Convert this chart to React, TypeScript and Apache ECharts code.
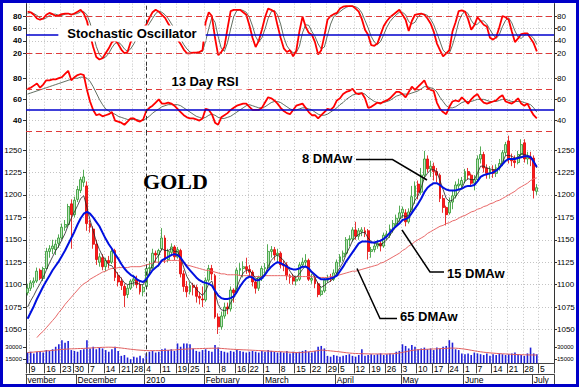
import React, { useEffect, useRef } from "react";
import * as echarts from "echarts";

// ---- trading days (categories) ----
const nov09 = [6, 9, 10, 11, 12, 13, 16, 17, 18, 19, 20, 23, 24, 25, 27, 30];
const dec09 = [1, 2, 3, 4, 7, 8, 9, 10, 11, 14, 15, 16, 17, 18, 21, 22, 23, 24, 28, 29, 30, 31];
const jan10 = [4, 5, 6, 7, 8, 11, 12, 13, 14, 15, 19, 20, 21, 22, 25, 26, 27, 28, 29];
const feb10 = [1, 2, 3, 4, 5, 8, 9, 10, 11, 12, 16, 17, 18, 19, 22, 23, 24, 25, 26];
const mar10 = [1, 2, 3, 4, 5, 8, 9, 10, 11, 12, 15, 16, 17, 18, 19, 22, 23, 24, 25, 26, 29, 30, 31];
const apr10 = [1, 5, 6, 7, 8, 9, 12, 13, 14, 15, 16, 19, 20, 21, 22, 23, 26, 27, 28, 29, 30];
const may10 = [3, 4, 5, 6, 7, 10, 11, 12, 13, 14, 17, 18, 19, 20, 21, 24, 25, 26, 27, 28];
const jun10 = [1, 2, 3, 4, 7, 8, 9, 10, 11, 14, 15, 16, 17, 18, 21, 22, 23, 24, 25, 28, 29, 30];
const jul10 = [1, 2, 5, 6, 7, 8, 9];

const monthKeys = ["2009-11", "2009-12", "2010-01", "2010-02", "2010-03", "2010-04", "2010-05", "2010-06", "2010-07"];
const monthNames = ["vember", "December", "2010", "February", "March", "April", "May", "June", "July"];
const monthDayLists = [nov09, dec09, jan10, feb10, mar10, apr10, may10, jun10, jul10];

// ---- price candles: [open, close, low, high] ----
const candles = [
  [1091,1096,1088,1101],[1096,1102,1093,1105],[1102,1104,1097,1108],[1104,1115,1102,1119],[1116,1107,1105,1118],
  [1107,1118,1104,1120],[1118,1137,1117,1141],[1137,1140,1130,1144],[1140,1143,1134,1150],[1139,1145,1133,1150],
  [1146,1152,1141,1156],[1152,1164,1150,1168],[1164,1167,1160,1172],[1167,1187,1165,1190],[1190,1178,1140,1195],
  [1178,1194,1175,1198],[1195,1206,1192,1210],[1205,1217,1202,1220],[1214,1220,1209,1228],[1210,1168,1160,1215],
  [1168,1164,1158,1172],[1162,1145,1140,1165],[1145,1128,1122,1150],[1125,1131,1120,1135],[1130,1120,1116,1134],
  [1120,1127,1115,1130],[1127,1124,1118,1132],[1125,1137,1123,1142],[1138,1108,1104,1140],[1110,1103,1098,1114],
  [1104,1099,1094,1108],[1098,1088,1075,1101],[1089,1096,1085,1100],[1096,1104,1094,1106],[1104,1106,1098,1111],
  [1106,1100,1096,1110],[1100,1092,1089,1103],[1092,1097,1087,1100],[1098,1118,1096,1122],[1118,1119,1112,1126],
  [1119,1135,1117,1140],[1135,1133,1125,1138],[1133,1138,1120,1140],[1140,1152,1138,1163],[1152,1128,1124,1155],
  [1128,1137,1125,1140],[1136,1142,1132,1146],[1142,1131,1127,1144],[1131,1139,1129,1142],[1138,1112,1108,1140],
  [1112,1098,1092,1116],[1098,1092,1086,1104],[1092,1099,1089,1103],[1099,1097,1088,1102],[1097,1087,1080,1100],
  [1087,1085,1078,1092],[1084,1083,1075,1098],[1083,1105,1081,1108],[1105,1118,1103,1122],[1118,1112,1105,1122],
  [1110,1064,1062,1112],[1064,1053,1045,1068],[1053,1065,1050,1070],[1065,1075,1062,1080],[1075,1073,1067,1080],
  [1073,1094,1070,1098],[1094,1091,1080,1096],[1092,1116,1090,1119],[1116,1118,1110,1124],[1118,1120,1108,1126],
  [1120,1117,1112,1130],[1117,1114,1108,1122],[1114,1103,1098,1116],[1103,1096,1090,1106],[1096,1108,1093,1110],
  [1108,1118,1104,1121],[1118,1119,1112,1124],[1119,1137,1117,1145],[1137,1139,1130,1143],[1139,1133,1127,1142],
  [1133,1135,1125,1140],[1135,1122,1118,1137],[1123,1121,1115,1127],[1122,1110,1105,1125],[1110,1108,1101,1112],
  [1108,1104,1100,1112],[1104,1106,1099,1110],[1106,1122,1104,1125],[1122,1125,1119,1130],[1125,1127,1120,1134],
  [1127,1106,1104,1129],[1105,1107,1101,1112],[1106,1101,1096,1110],[1101,1089,1086,1103],[1089,1093,1087,1098],
  [1093,1105,1091,1107],[1105,1107,1102,1111],[1107,1106,1103,1112],[1106,1113,1104,1117],[1113,1125,1111,1128],
  [1125,1131,1120,1134],[1131,1135,1126,1138],[1135,1150,1133,1153],[1150,1151,1143,1155],[1151,1161,1148,1164],
  [1161,1154,1150,1170],[1154,1160,1150,1163],[1159,1161,1154,1164],[1160,1158,1153,1164],[1160,1137,1128,1162],
  [1137,1139,1130,1142],[1139,1143,1136,1146],[1143,1146,1140,1150],[1146,1143,1137,1150],[1143,1155,1141,1158],
  [1154,1156,1150,1160],[1155,1162,1152,1167],[1162,1168,1158,1172],[1168,1174,1165,1178],[1174,1180,1170,1188],
  [1180,1184,1174,1187],[1180,1170,1165,1184],[1170,1181,1168,1185],[1181,1198,1178,1210],[1198,1210,1190,1215],
  [1212,1203,1195,1216],[1203,1222,1200,1230],[1222,1240,1218,1249],[1240,1229,1225,1244],[1229,1232,1220,1238],
  [1232,1226,1216,1236],[1226,1222,1214,1230],[1222,1196,1192,1224],[1196,1186,1180,1200],[1186,1178,1166,1188],
  [1180,1192,1178,1197],[1192,1199,1184,1205],[1199,1211,1196,1215],[1210,1212,1205,1218],[1211,1216,1206,1220],
  [1216,1226,1213,1229],[1226,1222,1217,1230],[1222,1213,1209,1224],[1213,1217,1205,1222],[1217,1240,1215,1244],
  [1240,1245,1235,1254],[1245,1230,1225,1248],[1230,1224,1218,1234],[1224,1228,1218,1232],[1228,1224,1219,1233],
  [1224,1230,1220,1234],[1230,1235,1227,1240],[1235,1247,1232,1250],[1247,1256,1244,1259],[1260,1240,1235,1266],
  [1240,1238,1232,1246],[1238,1236,1230,1244],[1236,1245,1234,1249],[1245,1256,1242,1262],[1258,1240,1236,1262],
  [1240,1242,1234,1248],[1242,1240,1232,1248],[1241,1205,1196,1244],[1204,1208,1200,1212],
];

const dmaw8 = [
  1075,1082,1088,1095,1101,1108,1116,1124,1131,1138, 1143,1150,1157,1166,1174,1181,1188,1196,1199,1186,
  1172,1160,1148,1139,1132,1127,1122,1121,1116,1111, 1107,1102,1100,1101,1102,1102,1100,1100,1106,1113,
  1122,1128,1133,1140,1138,1138,1140,1137,1137,1130, 1119,1109,1103,1100,1095,1091,1088,1093,1101,1104,
  1091,1078,1072,1071,1072,1080,1085,1097,1106,1113, 1116,1116,1112,1107,1106,1109,1112,1120,1127,1131,
  1133,1130,1127,1121,1115,1110,1108,1112,1117,1121, 1117,1113,1108,1101,1097,1099,1102,1104,1107,1113,
  1119,1125,1134,1141,1149,1153,1156,1158,1158,1152, 1148,1146,1145,1144,1147,1150,1155,1160,1166,1172,
  1177,1176,1177,1185,1194,1199,1208,1219,1224,1228, 1228,1226,1216,1206,1196,1193,1194,1198,1203,1208,
  1215,1218,1217,1217,1224,1232,1232,1230,1229,1228, 1228,1231,1236,1244,1244,1243,1241,1242,1246,1245,
  1244,1243,1238,1230,
];

const dmaw15 = [
  1062,1069,1076,1084,1091,1098,1104,1110,1116,1121, 1126,1132,1138,1145,1152,1159,1167,1174,1179,1181,
  1179,1175,1170,1165,1158,1151,1145,1140,1134,1129, 1123,1118,1114,1111,1109,1106,1104,1103,1106,1111,
  1116,1119,1122,1127,1129,1131,1133,1134,1133,1130, 1125,1120,1116,1112,1108,1105,1103,1102,1101,1099,
  1093,1088,1085,1084,1084,1085,1087,1092,1098,1103, 1107,1109,1108,1105,1105,1107,1111,1116,1120,1123,
  1125,1124,1122,1120,1118,1117,1117,1118,1120,1120, 1118,1114,1111,1108,1106,1106,1106,1107,1108,1110,
  1115,1120,1126,1131,1136,1141,1146,1148,1148,1148, 1147,1147,1148,1149,1151,1154,1158,1162,1165,1168,
  1172,1173,1175,1180,1185,1190,1196,1203,1208,1211, 1213,1213,1211,1208,1206,1205,1205,1205,1206,1207,
  1209,1210,1210,1211,1215,1220,1222,1223,1224,1225, 1227,1230,1234,1238,1240,1240,1240,1241,1242,1243,
  1243,1242,1237,1231,
];

const dmaw65 = [
  null,null,null,1041,1045,1048,1052,1056,1060,1064, 1069,1073,1078,1082,1086,1090,1094,1098,1101,1103,
  1106,1108,1110,1112,1114,1115,1117,1118,1118,1119, 1119,1119,1119,1120,1120,1120,1120,1121,1122,1123,
  1124,1125,1125,1126,1126,1127,1127,1127,1127,1126, 1124,1122,1121,1120,1119,1118,1117,1116,1116,1115,
  1114,1113,1112,1112,1111,1111,1111,1111,1110,1110, 1110,1110,1109,1109,1109,1109,1110,1110,1110,1110,
  1110,1110,1110,1110,1109,1109,1109,1109,1109,1109, 1109,1109,1108,1108,1108,1108,1108,1109,1109,1110,
  1111,1112,1113,1114,1115,1115,1116,1117,1118,1119, 1120,1121,1122,1124,1125,1127,1129,1131,1133,1135,
  1138,1140,1143,1145,1148,1150,1152,1154,1157,1159, 1161,1163,1165,1166,1168,1169,1171,1172,1174,1176,
  1177,1179,1181,1182,1184,1185,1187,1188,1190,1191, 1193,1194,1196,1198,1200,1202,1204,1207,1209,1211,
  1213,1216,1218,1219,
];

// ---- stochastic oscillator ----
const stochK = [
  87,86,82,76,74,76,82,85,83,80, 81,83,84,84,82,84,87,90,84,72, 50,30,14,10,12,20,28,38,41,35,
  26,20,22,38,45,50,55,60,66,77, 86,90,87,82,77,68,60,52,42,35, 26,20,20,21,21,22,25,70,86,80,
  45,17,22,30,60,88,90,90,90,86, 82,65,45,30,40,58,78,92,90,87, 65,45,28,22,25,15,24,55,79,63,
  53,50,38,18,25,48,74,80,83,85, 92,95,96,96,96,92,87,75,58,50, 33,32,36,50,64,72,78,82,86,90,
  82,74,56,72,82,83,84,82,76,68, 55,36,25,15,20,25,55,70,88,89, 87,75,58,65,78,72,66,63,45,42,
  46,62,80,78,74,55,38,44,51,52, 52,44,36,23,
];
const stochD = [
  84,86,84,81,77,75,77,81,83,83, 81,81,83,84,83,83,84,87,87,82, 69,51,31,18,12,14,20,29,36,38,
  34,27,23,27,35,44,50,55,60,68, 76,84,88,86,82,76,68,60,51,43, 34,27,22,21,21,22,23,40,60,78,
  70,47,28,23,37,59,79,89,90,89, 86,78,64,47,38,45,59,76,87,89, 82,67,46,32,25,21,21,31,53,66,
  65,55,47,35,27,30,49,67,79,83, 87,91,94,96,96,95,92,85,73,61, 47,38,34,39,50,62,71,77,82,86,
  86,82,71,67,70,79,83,83,81,75, 66,53,39,25,20,20,33,50,71,82, 88,84,73,66,67,72,72,67,58,50,
  44,50,63,73,77,69,56,46,44,49, 52,49,44,34,
];

// ---- 13 day RSI ----
const rsi = [
  70,71,73,75,71,74,78,78,79,79, 80,81,84,87,78,81,83,84,83,69, 58,50,45,46,44,45,46,48,40,39,
  38,36,39,42,42,40,39,41,49,52, 54,57,60,56,56,57,56,54,51,48, 45,43,42,42,41,40,42,51,50,46,
  38,36,43,45,47,50,52,54,55,56, 56,53,50,50,50,52,57,62,61,59, 56,52,49,47,46,50,54,55,56,52,
  48,45,45,42,45,48,51,50,53,59, 61,65,67,68,70,66,65,66,61,52, 53,55,57,56,58,59,61,64,67,67,
  65,62,67,72,69,72,75,78,71,69, 68,57,51,48,46,53,58,59,58,62, 59,56,60,63,65,60,57,56,57,58,
  59,62,64,58,57,56,58,61,56,54, 56,50,45,42,
];
const rsiSignal = [
  65,66,67,68,69,70,71,72,73,74, 75,76,77,78,79,80,80,81,81,80, 77,72,66,60,55,51,49,47,46,44,
  43,42,41,41,41,41,40,40,42,44, 47,49,51,53,54,55,55,55,55,54, 52,50,48,46,44,43,42,43,45,46,
  45,43,42,42,43,44,46,48,50,52, 54,55,54,53,52,52,53,55,57,58, 58,57,55,53,51,50,50,51,52,52,
  51,50,48,46,45,45,46,48,50,52, 55,57,60,62,64,65,66,66,65,62, 60,58,57,57,57,58,59,61,63,64,
  65,65,65,66,67,68,70,72,72,71, 70,67,62,58,54,52,52,53,55,57, 58,58,58,59,60,60,60,59,58,58,
  58,59,60,60,59,58,58,58,58,57, 56,55,52,48,
];

// ---- volume (thousands of contracts) ----
const volume = [
  23,24,22,24,25,23,26,25,27,30, 33,38,35,37,26,25,24,26,27,38, 28,30,27,29,28,26,24,27,30,25,
  19,20,17,15,18,17,19,16,22,24, 25,23,24,27,28,26,27,25,34,30, 34,34,33,28,25,24,26,27,25,24,
  32,29,25,24,23,25,24,26,25,24, 23,24,25,24,23,25,24,26,25,24, 23,24,23,25,22,24,23,24,25,26,
  24,23,25,30,31,28,19,18,20,19, 18,19,20,21,19,18,20,27,19,20, 21,20,21,22,20,21,22,21,24,25,
  33,31,28,32,30,27,28,29,27,28, 26,29,28,30,31,38,35,27,26,22, 21,22,20,23,22,21,20,22,19,21,
  20,22,21,20,21,22,23,21,20,19, 22,29,22,21,
];
const volumeAvg = [
  23,23.3,23.6,24,24.3,24.6,25,25.3,25.6,26, 26.4,26.8,27,27.3,27.5,27.6,27.8,27.9,28,28.3,
  28.5,28.7,28.9,29.1,29.3,29.4,29.5,29.4,29.2,28.9, 28.5,28,27.5,27,26.6,26.2,25.9,25.6,25.4,25.3,
  25.3,25.3,25.4,25.5,25.6,25.8,26,26.2,26.5,26.8, 27,27.2,27.4,27.6,27.7,27.8,27.9,28,28.1,28.2,
  28.3,28.2,28,27.7,27.4,27.1,26.9,26.7,26.5,26.3, 26.2,26,25.8,25.6,25.4,25.2,25,24.8,24.6,24.4,
  24.2,24,23.8,23.6,23.4,23.2,23,22.9,23.2,23.5, 23.9,24.3,24.8,25.4,26,25.8,25.4,25,24.6,24.2,
  23.8,23.3,22.8,22.4,22.1,21.9,21.7,21.6,21.5,21.4, 21.3,21.3,21.3,21.3,21.3,21.3,21.4,21.6,22,22.5,
  23.2,24,24.8,25.5,26.1,26.4,26.6,26.8,27,27.2, 27.3,27.5,27.7,27.9,28.1,28.3,28.4,28.3,28,27.6,
  27.1,26.5,25.8,25.1,24.5,23.9,23.4,23,22.6,22.3, 22,21.7,21.5,21.3,21.1,20.9,20.7,20.5,20.4,20.3,
  20.2,20.1,20.1,20,
];

// ---- tick values ----
const stochTicks = [20, 40, 60, 80];
const rsiTicks = [40, 60, 80];
const priceTicks = [1050, 1075, 1100, 1125, 1150, 1175, 1200, 1225, 1250];
const volumeTicks = [15, 30];

const categories: string[] = [];
monthKeys.forEach((k, m) => {
  monthDayLists[m].forEach((d) => categories.push(`${k}-${String(d).padStart(2, "0")}`));
});
const toTime = (s: string) => Date.UTC(+s.slice(0, 4), +s.slice(5, 7) - 1, +s.slice(8, 10));
const isWeekStart = categories.map((c, i) => i > 0 && (toTime(c) - toTime(categories[i - 1])) / 86400000 >= 3);
const isMonthStart = categories.map((c, i) => i === 0 || c.slice(0, 7) !== categories[i - 1].slice(0, 7));
const yearStart = categories.find((c) => c.startsWith("2010-01"))!;

const FONT = '"Liberation Sans", Arial, Helvetica, sans-serif';
const GRID_L = 26;
const GRID_R = 25;

const redDash = { color: "#e03a3a", type: [6, 4] as any, width: 1 };
const blueSolid = { color: "#0000cc", type: "solid" as any, width: 1.5 };
const yearLine = { color: "#333333", type: [4, 3] as any, width: 1 };
const gridDot = { color: "#c4c4c4", type: [1, 2] as any, width: 1 };

function xBase(gridIndex: number) {
  return {
    type: "category",
    gridIndex,
    data: categories,
    boundaryGap: true,
    axisLine: { show: false },
    axisTick: { show: false },
    axisLabel: { show: false },
    splitLine: { show: true, interval: (i: number) => isWeekStart[i], lineStyle: gridDot },
  };
}

function yAxis(gridIndex: number, position: string, min: number, max: number, ticks: number[], bold: boolean, split: boolean, fmt?: (v: number) => string, size = 8) {
  return {
    type: "value",
    gridIndex,
    position,
    min,
    max,
    axisLine: { show: true, lineStyle: { color: "#333333", width: 1 } },
    axisTick: { show: true, length: 3, customValues: ticks, lineStyle: { color: "#333333" } },
    axisLabel: {
      customValues: ticks,
      fontSize: size,
      color: "#000000",
      fontFamily: FONT,
      fontWeight: bold ? "bold" : "normal",
      margin: position === "left" ? 4 : 3,
      formatter: fmt ? fmt : (v: number) => String(v),
    },
    splitLine: { show: split, lineStyle: gridDot },
  };
}

const markYear = { xAxis: yearStart, lineStyle: yearLine };
const ml = (data: any[]) => ({ silent: true, symbol: ["none", "none"], label: { show: false }, data });

const option: any = {
  animation: false,
  backgroundColor: "#ffffff",
  grid: [
    { left: GRID_L, right: GRID_R, top: 3.6, height: 62.1 },
    { left: GRID_L, right: GRID_R, top: 65.7, height: 68.15 },
    { left: GRID_L, right: GRID_R, top: 133.85, height: 204.65 },
    { left: GRID_L, right: GRID_R, top: 338.5, height: 24.8 },
  ],
  xAxis: [
    xBase(0),
    xBase(1),
    xBase(2),
    {
      ...xBase(3),
      axisLine: { show: true, lineStyle: { color: "#444444", width: 1 } },
      axisTick: { show: true, length: 10, interval: (i: number) => i === 0 || isWeekStart[i], lineStyle: { color: "#444444" } },
      axisLabel: {
        show: true,
        interval: (i: number) => isWeekStart[i],
        formatter: (v: string) => String(+v.slice(8, 10)),
        align: "left",
        margin: 1.5,
        fontSize: 8.5,
        color: "#000000",
        fontFamily: FONT,
      },
    },
    {
      type: "category",
      gridIndex: 3,
      data: categories,
      boundaryGap: true,
      position: "bottom",
      offset: 11,
      axisLine: { show: true, lineStyle: { color: "#444444", width: 1 } },
      axisTick: { show: true, length: 11, interval: (i: number) => isMonthStart[i], lineStyle: { color: "#444444" } },
      axisLabel: {
        show: true,
        interval: (i: number) => isMonthStart[i],
        formatter: (v: string) => monthNames[monthKeys.indexOf(v.slice(0, 7))],
        align: "left",
        margin: 1.5,
        fontSize: 8.5,
        color: "#000000",
        fontFamily: FONT,
      },
      splitLine: { show: false },
    },
  ],
  yAxis: [
    yAxis(0, "left", 0, 100, stochTicks, true, true),
    yAxis(0, "right", 0, 100, stochTicks, false, false),
    yAxis(1, "left", 27.4, 91.84, rsiTicks, true, true),
    yAxis(1, "right", 27.4, 91.84, rsiTicks, false, false),
    yAxis(2, "left", 1040, 1268, priceTicks, false, true),
    yAxis(2, "right", 1040, 1268, priceTicks, false, false),
    yAxis(3, "left", 10, 40, volumeTicks, false, false, (v: number) => String(v * 1000), 6),
    yAxis(3, "right", 10, 40, volumeTicks, false, false, (v: number) => String(v * 1000), 6),
  ],
  series: [
    {
      type: "line", xAxisIndex: 0, yAxisIndex: 0, data: stochD, symbol: "none", z: 2,
      lineStyle: { color: "#3a4a3a", width: 0.8 },
      markLine: ml([{ yAxis: 80, lineStyle: redDash }, { yAxis: 20, lineStyle: redDash }, { yAxis: 50, lineStyle: blueSolid }, markYear]),
    },
    { type: "line", xAxisIndex: 0, yAxisIndex: 0, data: stochK, symbol: "none", z: 3, lineStyle: { color: "#ff0000", width: 1.8 } },
    {
      type: "line", xAxisIndex: 1, yAxisIndex: 2, data: rsiSignal, symbol: "none", z: 2,
      lineStyle: { color: "#3a4a3a", width: 0.8 },
      markLine: ml([{ yAxis: 70, lineStyle: redDash }, { yAxis: 30, lineStyle: redDash }, { yAxis: 50, lineStyle: blueSolid }, markYear]),
    },
    { type: "line", xAxisIndex: 1, yAxisIndex: 2, data: rsi, symbol: "none", z: 3, lineStyle: { color: "#ff0000", width: 1.8 } },
    {
      type: "candlestick", xAxisIndex: 2, yAxisIndex: 4, data: candles, barWidth: 2.4, z: 2,
      itemStyle: { color: "#bfe6bf", color0: "#ff1a1a", borderColor: "#2a962a", borderColor0: "#e00000", borderWidth: 0.8 },
      markLine: ml([markYear]),
    },
    { type: "line", xAxisIndex: 2, yAxisIndex: 4, data: dmaw65, symbol: "none", z: 3, lineStyle: { color: "#e86868", width: 1 } },
    { type: "line", xAxisIndex: 2, yAxisIndex: 4, data: dmaw8, symbol: "none", z: 4, lineStyle: { color: "#222222", width: 0.8 } },
    { type: "line", xAxisIndex: 2, yAxisIndex: 4, data: dmaw15, symbol: "none", z: 5, lineStyle: { color: "#0010e0", width: 2 } },
    {
      type: "bar", xAxisIndex: 3, yAxisIndex: 6, data: volume, barWidth: 1.6, z: 2,
      itemStyle: { color: "#1f1fd8" },
      markLine: ml([markYear]),
    },
    { type: "line", xAxisIndex: 3, yAxisIndex: 6, data: volumeAvg, symbol: "none", z: 3, lineStyle: { color: "#e06060", width: 1 } },
  ],
  graphic: [
    {
      type: "text", x: 132, y: 33.5, z: 100,
      style: { text: "Stochastic Oscillator", fontSize: 13, fontWeight: "bold", fontFamily: FONT, fill: "#000000", align: "center", verticalAlign: "middle", backgroundColor: "#ffffff", padding: [2, 9, 1, 9] },
    },
    {
      type: "text", x: 205, y: 81.5, z: 100,
      style: { text: "13 Day RSI", fontSize: 13, fontWeight: "bold", fontFamily: FONT, fill: "#000000", align: "center", verticalAlign: "middle", backgroundColor: "#ffffff", padding: [2, 9, 1, 9] },
    },
    {
      type: "text", x: 175.5, y: 181, z: 100,
      style: { text: "GOLD", fontSize: 22, fontWeight: "bold", fontFamily: '"Liberation Serif", "Times New Roman", serif', fill: "#000000", align: "center", verticalAlign: "middle" },
    },
    {
      type: "text", x: 302, y: 158.5, z: 100,
      style: { text: "8 DMAw", fontSize: 13, fontWeight: "bold", fontFamily: FONT, fill: "#000000", align: "left", verticalAlign: "middle" },
    },
    {
      type: "text", x: 447, y: 273, z: 100,
      style: { text: "15 DMAw", fontSize: 13, fontWeight: "bold", fontFamily: FONT, fill: "#000000", align: "left", verticalAlign: "middle" },
    },
    {
      type: "text", x: 400, y: 316.5, z: 100,
      style: { text: "65 DMAw", fontSize: 13, fontWeight: "bold", fontFamily: FONT, fill: "#000000", align: "left", verticalAlign: "middle" },
    },
    { type: "polyline", z: 100, shape: { points: [[356, 159.5], [392.5, 159.5], [427, 180]] }, style: { stroke: "#000000", lineWidth: 1.5, fill: null } },
    { type: "polyline", z: 100, shape: { points: [[402, 230], [430, 272], [444, 272]] }, style: { stroke: "#000000", lineWidth: 1.5, fill: null } },
    { type: "polyline", z: 100, shape: { points: [[357, 268.5], [380, 318.5], [397, 318.5]] }, style: { stroke: "#000000", lineWidth: 1.5, fill: null } },
    { type: "rect", z: 200, shape: { x: 1.5, y: 1.5, width: 576, height: 384 }, style: { fill: "rgba(0,0,0,0)", stroke: "#0000c8", lineWidth: 3 } },
  ],
};

export default function App() {
  const ref = useRef<HTMLDivElement>(null);
  useEffect(() => {
    if (!ref.current) return;
    const chart = echarts.init(ref.current, undefined, { renderer: "svg" });
    chart.setOption(option);
    return () => chart.dispose();
  }, []);
  return <div ref={ref} style={{ position: "absolute", left: 0, top: 0, width: 579, height: 387, background: "#ffffff" }} />;
}
